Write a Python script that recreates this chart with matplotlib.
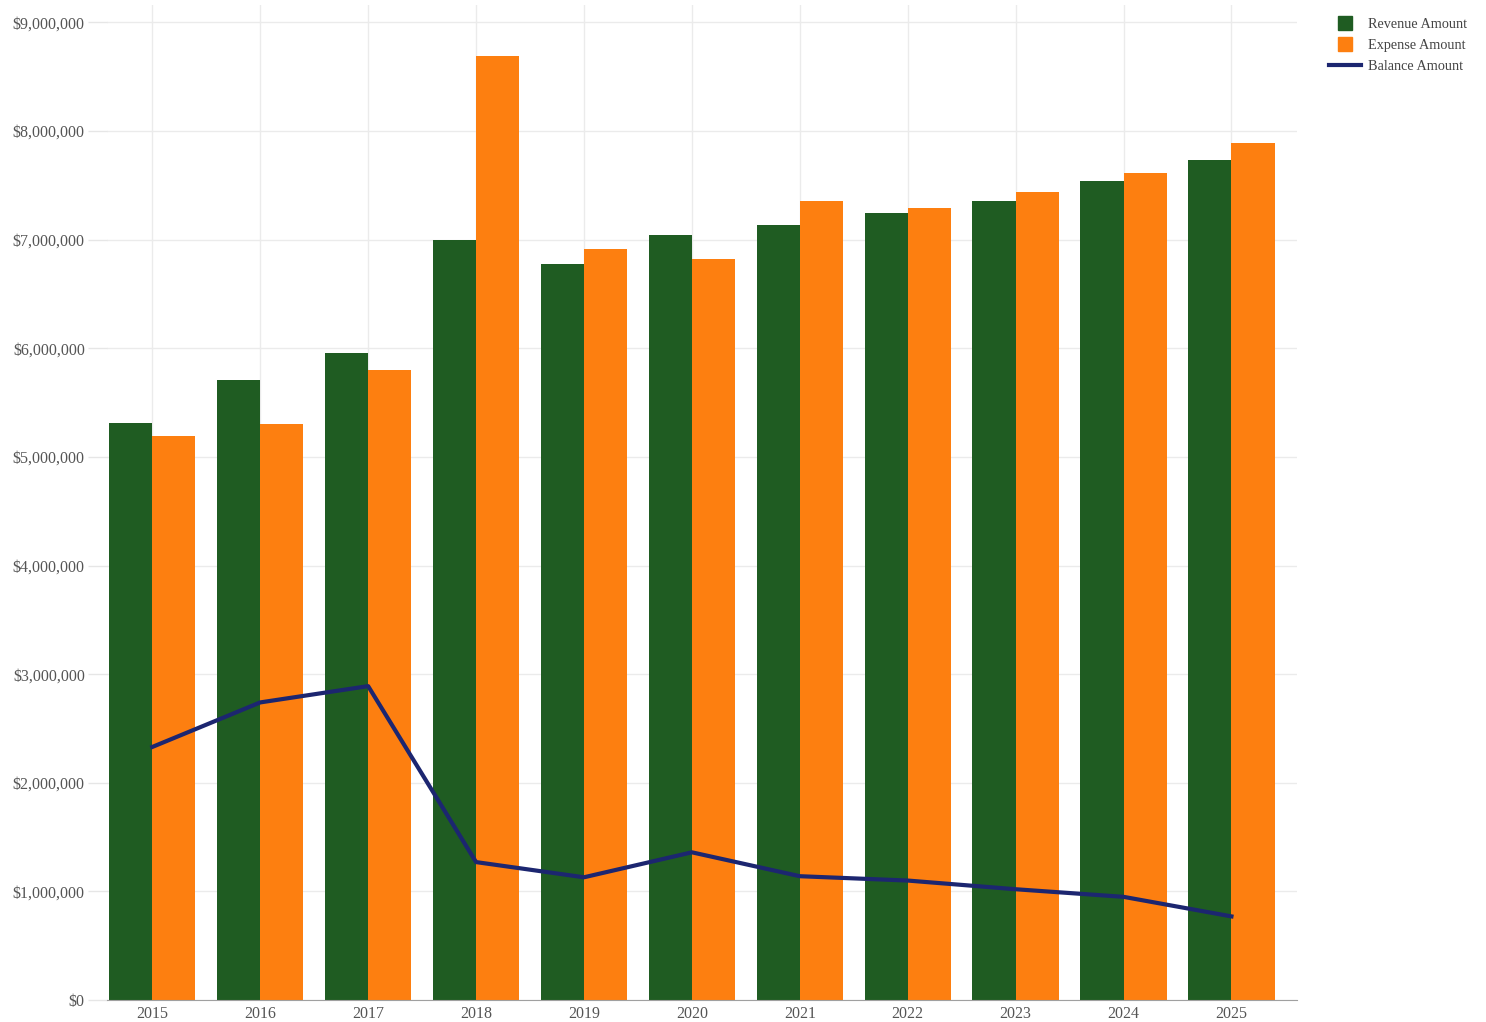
"""
revenue / expense / balance chart, 2015-2025
"""
import numpy as np
from matplotlib import pyplot as plt
from matplotlib.lines import Line2D
from matplotlib.ticker import FuncFormatter

years = [2015, 2016, 2017, 2018, 2019, 2020, 2021, 2022, 2023, 2024, 2025]
revenue = [5.31e6, 5.71e6, 5.96e6, 7.00e6, 6.78e6, 7.04e6, 7.14e6, 7.25e6, 7.36e6, 7.54e6, 7.73e6]
expense = [5.19e6, 5.30e6, 5.80e6, 8.69e6, 6.91e6, 6.82e6, 7.36e6, 7.29e6, 7.44e6, 7.61e6, 7.89e6]
balance = [2.33e6, 2.74e6, 2.89e6, 1.27e6, 1.13e6, 1.36e6, 1.14e6, 1.10e6, 1.02e6, 0.95e6, 0.77e6]

green = '#1f5c22'
orange = '#fd7f10'
navy = '#1c2670'

plt.rcParams['font.family'] = ['Liberation Serif', 'DejaVu Serif']

fig = plt.figure(figsize=(14.86, 10.22), dpi=100)
ax = fig.add_axes([0.072, 0.0215, 0.801, 0.9735])

x = np.arange(len(years))
w = 0.4
ax.bar(x - w / 2, revenue, width=w, color=green, zorder=2)
ax.bar(x + w / 2, expense, width=w, color=orange, zorder=2)
ax.plot(x, balance, color=navy, lw=3, zorder=3)

ax.set_xlim(-0.42, 10.61)
ax.set_ylim(0, 9.16e6)
ax.set_xticks(x)
ax.set_xticklabels([str(y) for y in years])
ax.set_yticks(np.arange(0, 9.5e6, 1e6))
ax.yaxis.set_major_formatter(FuncFormatter(lambda v, p: '${:,.0f}'.format(v)))

ax.grid(True, color='#ebebeb', lw=1, zorder=0)
ax.set_axisbelow(True)
for s in ['top', 'right', 'left']:
    ax.spines[s].set_visible(False)
ax.spines['bottom'].set_color('#a0a0a0')
ax.tick_params(axis='x', labelsize=11.5, colors='#555555', length=0, pad=4)
ax.tick_params(axis='y', labelsize=11.5, labelcolor='#555555', color='#e6e6e6',
               length=14, width=1, pad=2)
ax.yaxis.get_major_ticks()[0].tick1line.set_color('#909090')

handles = [
    Line2D([], [], marker='s', ls='', color=green, markersize=10, label='Revenue Amount'),
    Line2D([], [], marker='s', ls='', color=orange, markersize=10, label='Expense Amount'),
    Line2D([], [], color=navy, lw=3, label='Balance Amount'),
]
ax.legend(handles=handles, loc='upper left', bbox_to_anchor=(1.016, 1.0), frameon=False,
          fontsize=10.3, handlelength=2.2, handletextpad=0.5, labelspacing=0.55,
          labelcolor='#444444')

plt.savefig('out.png', dpi=100)
